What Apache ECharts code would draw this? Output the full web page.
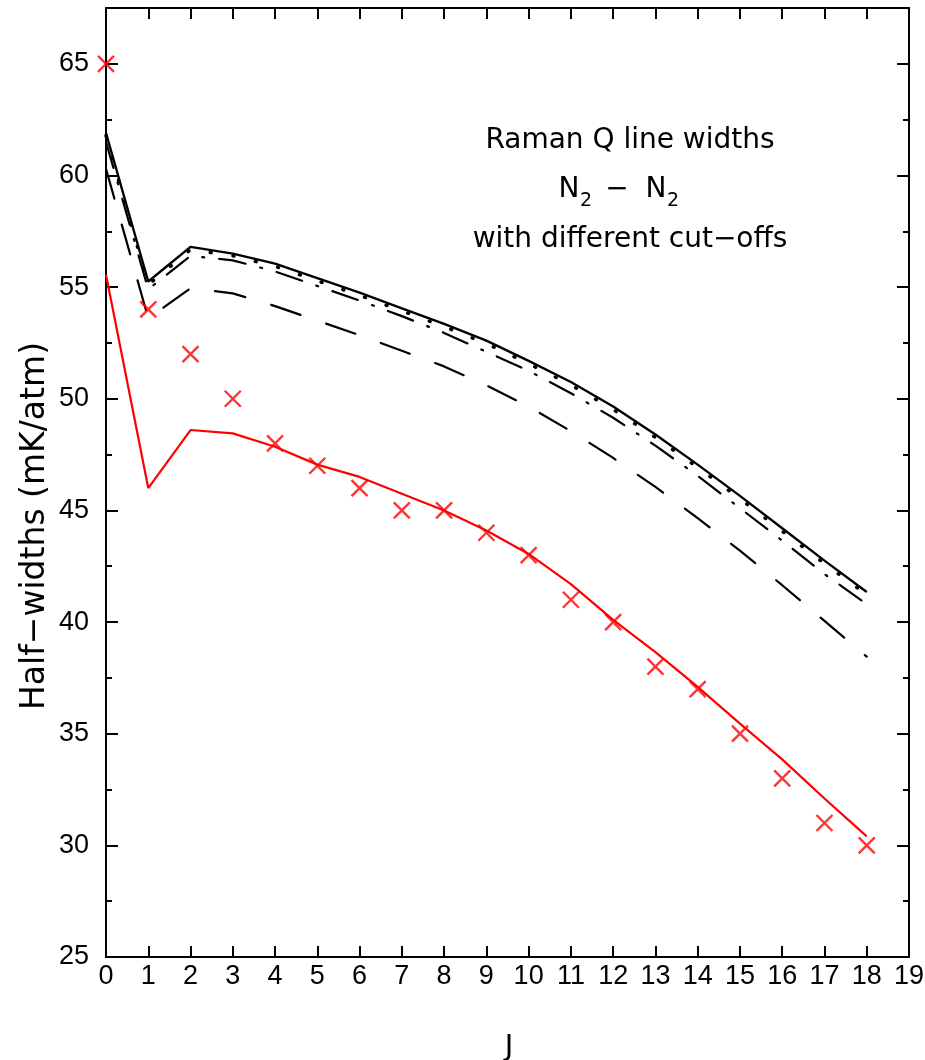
<!DOCTYPE html>
<html>
<head>
<meta charset="utf-8">
<script src="https://cdn.jsdelivr.net/npm/echarts@6/dist/echarts.min.js"></script>
<style>
  html, body { margin: 0; padding: 0; background: #ffffff; }
  #chart { width: 925px; height: 1060px; }
</style>
</head>
<body>
<div id="chart"></div>
<script>
// Rotational quantum number J
const J = [0, 1, 2, 3, 4, 5, 6, 7, 8, 9, 10, 11, 12, 13, 14, 15, 16, 17, 18];

// Calculated half-widths (mK/atm) for different cut-offs
const solidCutoff    = [61.9, 55.25, 56.8, 56.5, 56.05, 55.4, 54.75, 54.05, 53.35, 52.6, 51.7, 50.75, 49.65, 48.4, 47.05, 45.65, 44.2, 42.75, 41.35];
const dottedCutoff   = [61.78, 55.1, 56.68, 56.4, 55.93, 55.28, 54.63, 53.93, 53.23, 52.47, 51.57, 50.62, 49.52, 48.27, 46.92, 45.52, 44.07, 42.62, 41.22];
const dashDotCutoff  = [61.5, 54.9, 56.4, 56.2, 55.7, 55.05, 54.4, 53.7, 52.95, 52.1, 51.25, 50.25, 49.15, 47.9, 46.55, 45.1, 43.65, 42.15, 40.8];
const longDashCutoff = [60.3, 53.6, 54.95, 54.72, 54.15, 53.5, 52.85, 52.15, 51.45, 50.6, 49.65, 48.55, 47.35, 46.05, 44.65, 43.2, 41.65, 40.05, 38.45];
const redCalc        = [55.55, 46.0, 48.6, 48.45, 47.85, 47.05, 46.5, 45.75, 45.0, 44.1, 43.05, 41.7, 40.1, 38.65, 37.1, 35.45, 33.85, 32.1, 30.4];

// Measured half-widths (crosses)
const measured = [65, 54, 52, 50, 48, 47, 46, 45, 45, 44, 43, 41, 40, 38, 37, 35, 33, 31, 30];

// Axis ticks
const xTickLabels = [0, 1, 2, 3, 4, 5, 6, 7, 8, 9, 10, 11, 12, 13, 14, 15, 16, 17, 18, 19];
const yTickLabels = [25, 30, 35, 40, 45, 50, 55, 60, 65];

const pairs = vals => J.map((j, i) => [j, vals[i]]);

const FONT = '"DejaVu Sans", "Liberation Sans", sans-serif';
const TICKFONT = '"Liberation Sans", Arial, sans-serif';
const BLACK = '#000000';
const RED = '#ff0000';

const yBase = {
  type: 'value', min: 25, max: 67.5,
  axisLine: { show: true, onZero: false, lineStyle: { color: BLACK, width: 2 } },
  splitLine: { show: false }
};
const yMajor = (pos, labels) => Object.assign({}, yBase, {
  position: pos, interval: 5,
  axisTick: { show: true, inside: true, length: 12, lineStyle: { color: BLACK, width: 2 } },
  axisLabel: {
    show: labels, margin: 17, color: BLACK, fontSize: 27, fontFamily: TICKFONT,
    showMaxLabel: true,
    formatter: v => (yTickLabels.indexOf(v) >= 0 ? String(v) : '')
  }
});
const yMinor = pos => Object.assign({}, yBase, {
  position: pos, interval: 2.5,
  axisTick: { show: true, inside: true, length: 6, lineStyle: { color: BLACK, width: 2 } },
  axisLabel: { show: false }
});

const xAxisDef = (pos, labels) => ({
  type: 'value', position: pos, min: 0, max: 19, interval: 1,
  axisLine: { show: true, onZero: false, lineStyle: { color: BLACK, width: 2 } },
  axisTick: { show: true, inside: true, length: 11, lineStyle: { color: BLACK, width: 2 } },
  axisLabel: {
    show: labels, margin: 6, color: BLACK, fontSize: 27, fontFamily: TICKFONT,
    showMinLabel: true, showMaxLabel: true,
    formatter: v => (xTickLabels.indexOf(v) >= 0 ? String(v) : '')
  },
  splitLine: { show: false }
});

const lineSeries = (name, vals, color, type, width) => ({
  name, type: 'line', data: pairs(vals),
  xAxisIndex: 0, yAxisIndex: 0,
  symbol: 'none', showSymbol: false, smooth: false, silent: true,
  lineStyle: { color, width, type, cap: type === 'solid' ? 'butt' : 'round' },
  z: 3
});

const chart = echarts.init(document.getElementById('chart'), null, { renderer: 'canvas' });

const titleLine = (text, y) => ({
  type: 'text', x: 630, y,
  style: { text, fill: BLACK, font: '28px ' + FONT, textAlign: 'center', textVerticalAlign: 'middle' }
});
const glyph = (text, x, y, size) => ({
  type: 'text', x, y,
  style: { text, fill: BLACK, font: size + 'px ' + FONT, textAlign: 'center', textVerticalAlign: 'middle' }
});

chart.setOption({
  animation: false,
  backgroundColor: '#ffffff',
  grid: { left: 106, right: 16, top: 8, bottom: 103, containLabel: false, outerBoundsMode: 'none' },
  xAxis: [xAxisDef('bottom', true), xAxisDef('top', false)],
  yAxis: [yMajor('left', true), yMinor('left'), yMajor('right', false), yMinor('right')],
  series: [
    lineSeries('solid cut-off', solidCutoff, BLACK, 'solid', 2.4),
    lineSeries('dotted cut-off', dottedCutoff, BLACK, [1, 22], 3.4),
    lineSeries('dash-dot cut-off', dashDotCutoff, BLACK, [27, 15, 2, 15], 2.2),
    lineSeries('long-dash cut-off', longDashCutoff, BLACK, [31, 27], 2.2),
    lineSeries('calculated', redCalc, RED, 'solid', 2.2),
    {
      name: 'measured', type: 'scatter', data: pairs(measured),
      xAxisIndex: 0, yAxisIndex: 0, clip: false, silent: true,
      symbol: 'path://M0,0L10,10M10,0L0,10', symbolSize: 16,
      itemStyle: { color: 'rgba(0,0,0,0)', borderColor: RED, borderWidth: 2.4 },
      z: 4
    }
  ],
  graphic: [
    titleLine('Raman Q line widths', 141),
    glyph('N', 569, 190, 28),
    glyph('2', 586, 201, 19),
    glyph('\u2212', 617, 190, 28),
    glyph('N', 656, 190, 28),
    glyph('2', 673, 201, 19),
    titleLine('with different cut\u2212offs', 240),
    {
      type: 'text', x: 35, y: 526, rotation: Math.PI / 2,
      style: { text: 'Half\u2212widths (mK/atm)', fill: BLACK, font: '33px ' + FONT, textAlign: 'center', textVerticalAlign: 'middle' }
    },
    glyph('J', 509, 1047, 29)
  ]
});
</script>
</body>
</html>
